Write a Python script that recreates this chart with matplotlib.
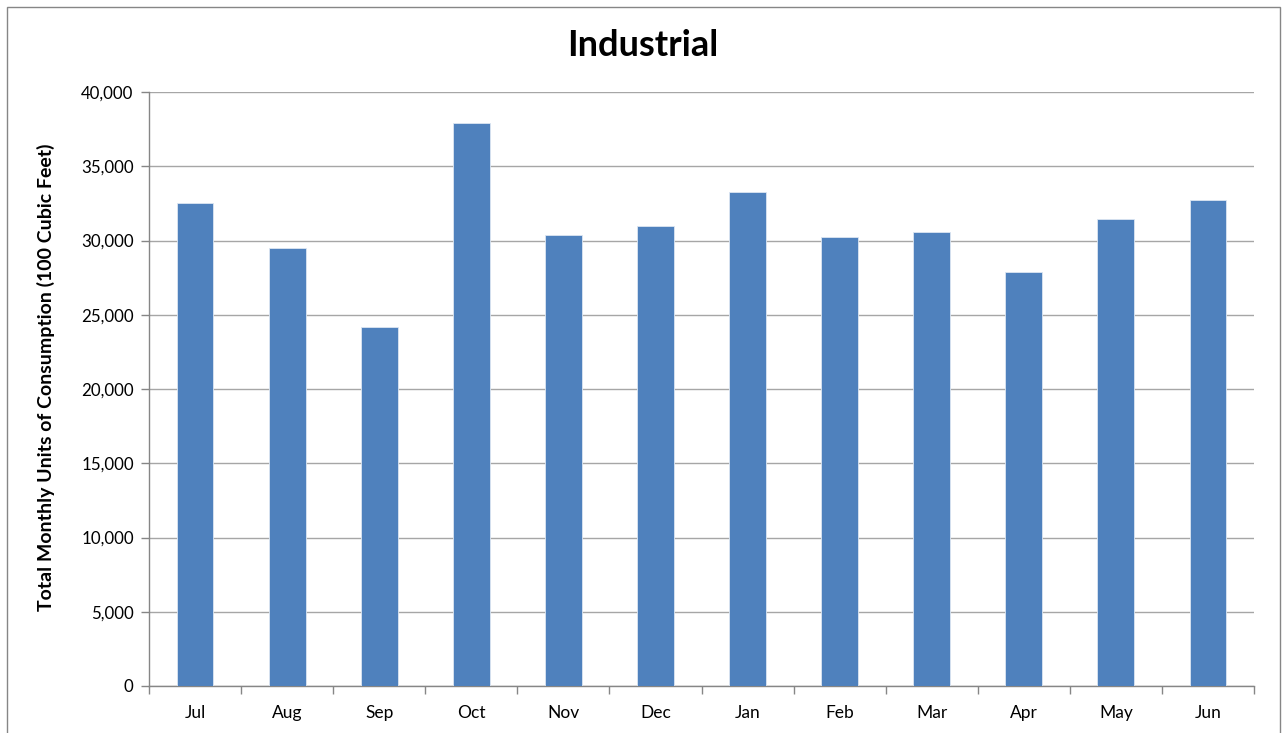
import matplotlib
matplotlib.use("Agg")
import matplotlib.pyplot as plt
from matplotlib.patches import Rectangle
from matplotlib.ticker import FuncFormatter, FixedLocator
import numpy as np

months = ["Jul", "Aug", "Sep", "Oct", "Nov", "Dec", "Jan", "Feb", "Mar", "Apr", "May", "Jun"]
consumption = [32550, 29510, 24190, 37890, 30390, 31000, 33290, 30260, 30590, 27900, 31420, 32750]
y_ticks = [0, 5000, 10000, 15000, 20000, 25000, 30000, 35000, 40000]

plt.rcParams['font.family'] = ['Lato', 'DejaVu Sans']

W, H = 1287, 733
fig = plt.figure(figsize=(W / 100, H / 100), dpi=100)
ax = fig.add_axes([149 / W, 1 - 686 / H, (1254 - 149) / W, (686 - 92) / H])

x = np.arange(len(months))
ax.bar(x, consumption, width=0.40, color="#4F81BD", edgecolor="#DCE6F2", linewidth=0.6, zorder=3)

ax.set_xlim(-0.5, len(months) - 0.5)
ax.set_ylim(0, 40000)
ax.set_yticks(y_ticks)
ax.yaxis.set_major_formatter(FuncFormatter(lambda v, p: f"{int(v):,}"))
ax.grid(axis="y", color="#A6A6A6", linewidth=1.0, zorder=0)

ax.set_xticks(x)
ax.set_xticklabels(months)
ax.xaxis.set_minor_locator(FixedLocator(np.arange(-0.5, len(months), 1.0)))
ax.tick_params(axis="x", which="major", length=0, pad=14, labelsize=12.5)
ax.tick_params(axis="x", which="minor", length=6, color="#868686", width=1.0)
ax.tick_params(axis="y", length=6, color="#868686", width=1.0, labelsize=12.2, pad=5)

for s in ["top", "right"]:
    ax.spines[s].set_visible(False)
for s in ["left", "bottom"]:
    ax.spines[s].set_color("#868686")
    ax.spines[s].set_linewidth(1.0)

ax.set_ylabel("Total Monthly Units of Consumption (100 Cubic Feet)", fontsize=14, fontweight="bold")
ax.yaxis.set_label_coords(-0.085, 0.52)
fig.text(643 / W, 1 - 46 / H, "Industrial", ha="center", va="center", fontsize=26, fontweight="bold")

fig.patches.append(Rectangle((7 / W, -0.01), (1280 - 7) / W, 1 - 7 / H + 0.01,
                             transform=fig.transFigure, fill=False, edgecolor="#868686", linewidth=1.0))

fig.savefig("out.png", dpi=100, facecolor="white")
